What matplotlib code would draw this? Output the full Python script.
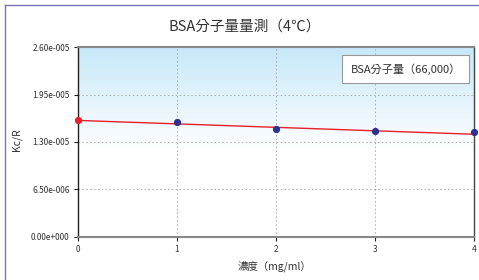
import matplotlib
matplotlib.use("Agg")
import matplotlib.pyplot as plt
import numpy as np
from matplotlib.colors import LinearSegmentedColormap
from matplotlib.lines import Line2D

plt.rcParams['font.family'] = ['Noto Sans CJK TC', 'DejaVu Sans']

# Data
conc = [1, 2, 3, 4]
kc_r = [1.573e-5, 1.477e-5, 1.443e-5, 1.432e-5]
fit_x = [0, 4]
fit_y = [1.595e-5, 1.405e-5]
intercept_x = [0]
intercept_y = [1.595e-5]
yticks = [0, 6.5e-6, 1.3e-5, 1.95e-5, 2.6e-5]
ytick_labels = ['0.00e+000', '6.50e-006', '1.30e-005', '1.95e-005', '2.60e-005']
xticks = [0, 1, 2, 3, 4]
title = 'BSA分子量量測（4℃）'
legend_text = 'BSA分子量（66,000）'
xlabel = '濃度（mg/ml）'
ylabel = 'Kc/R'

fig = plt.figure(figsize=(4.79, 2.80), dpi=100)
ax = fig.add_axes([78/479, 1-236.5/280, (474-78)/479, (236.5-47.3)/280])

# gradient background
cmap = LinearSegmentedColormap.from_list('bg', [(0, '#ffffff'), (0.45, '#ffffff'), (1.0, '#c6e8f9')])
grad = np.linspace(0, 1, 256).reshape(-1, 1)
ax.imshow(grad, aspect='auto', cmap=cmap, origin='lower',
          extent=[0, 1, 0, 1], transform=ax.transAxes, zorder=0)

ax.set_xlim(0, 4)
ax.set_ylim(0, 2.6e-5)
ax.set_xticks(xticks)
ax.set_xticklabels([str(v) for v in xticks], fontsize=6, color='#333333')
ax.set_yticks(yticks)
ax.set_yticklabels(ytick_labels, fontsize=6, color='#333333')
ax.tick_params(axis='both', length=3, width=0.8, color='#222222', pad=3, direction='out')

for v in [1, 2, 3]:
    ax.axvline(v, color='#aaaaaa', lw=0.7, ls=(0, (1.5, 2.5)), zorder=1)
for v in yticks[1:4]:
    ax.axhline(v, color='#aaaaaa', lw=0.7, ls=(0, (1.5, 2.5)), zorder=1)

ax.spines['left'].set_color('#222222'); ax.spines['left'].set_linewidth(1.0)
ax.spines['right'].set_color('#444444'); ax.spines['right'].set_linewidth(1.0)
ax.spines['top'].set_color('#888888'); ax.spines['top'].set_linewidth(1.5)
ax.spines['bottom'].set_color('#888888'); ax.spines['bottom'].set_linewidth(1.5)

ax.plot(fit_x, fit_y, color='#e8202a', lw=1.0, zorder=3, clip_on=False)
ax.plot(intercept_x, intercept_y, 'o', color='#e8202a', ms=4.2, zorder=4, clip_on=False)
ax.plot(conc, kc_r, 'o', color='#2e3192', ms=4.2, lw=0, zorder=4, clip_on=False)

ax.text((405.5-78)/396, (236.5-69)/189.2, legend_text, transform=ax.transAxes,
        ha='center', va='center', fontsize=8, color='#333333',
        bbox=dict(boxstyle='square,pad=0.75', fc='white', ec='#999999', lw=0.8), zorder=5)

fig.text(245/479, 1-27/280, title, ha='center', va='center', fontsize=10.5, color='#333333')
fig.text(17/479, 1-140/280, ylabel, ha='center', va='center', rotation=90, fontsize=7.5, color='#333333')
fig.text(275/479, 1-266/280, xlabel, ha='center', va='center', fontsize=7.5, color='#333333')

# figure frame lines (left & top)
fig.add_artist(Line2D([5/479, 5/479], [0, 1-4.5/280], color='#7a72b8', lw=1.0, transform=fig.transFigure))
fig.add_artist(Line2D([5/479, 1], [1-4.5/280, 1-4.5/280], color='#7a72b8', lw=1.0, transform=fig.transFigure))

fig.savefig('out.png', dpi=100)
